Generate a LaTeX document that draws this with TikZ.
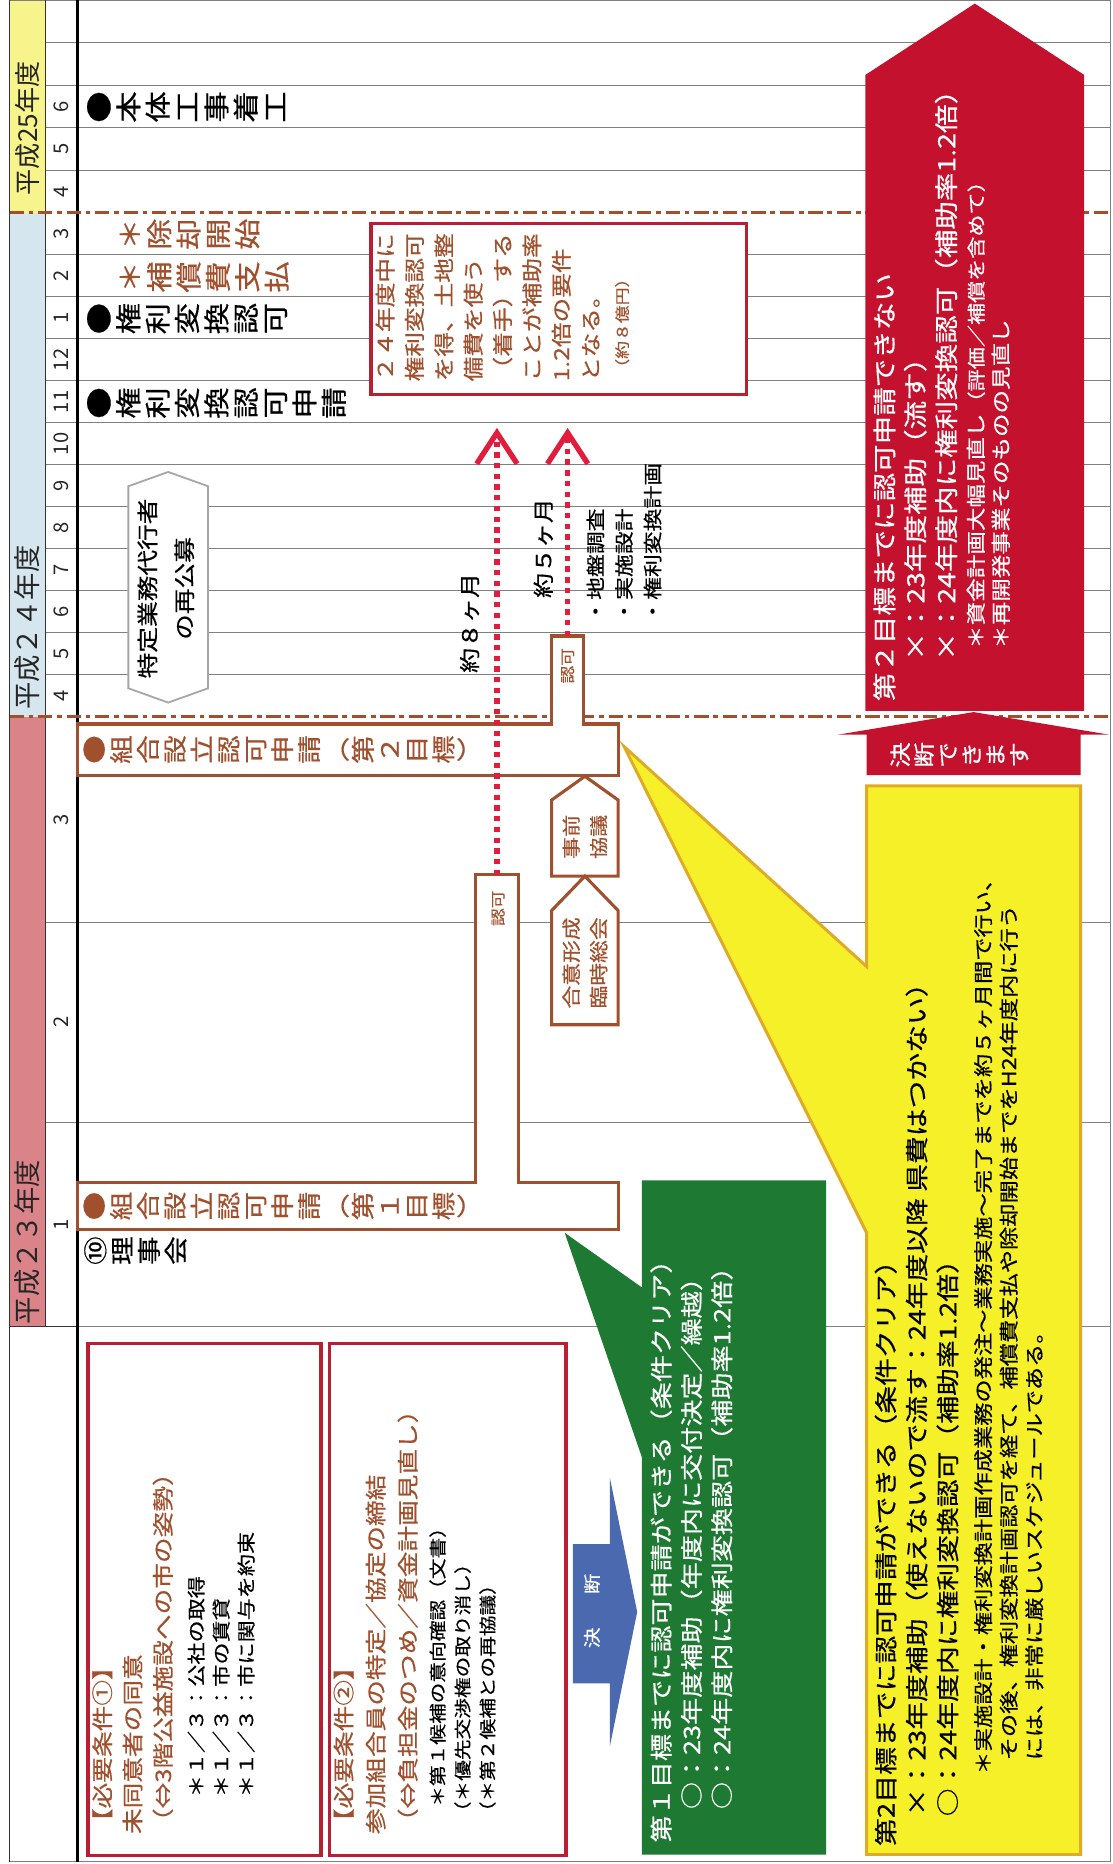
\documentclass[tikz,border=0pt]{standalone}
\usepackage{fontspec}
\setmainfont{Noto Sans CJK JP}[FakeStretch=1.2, FakeBold=0.5]
\newfontfamily\jpn{Noto Sans CJK JP}
\usepackage{graphicx}
\usetikzlibrary{arrows.meta}
\definecolor{brn}{RGB}{160,80,45}
\definecolor{crim}{RGB}{185,30,50}
\definecolor{dotred}{RGB}{226,28,60}
\definecolor{bigred}{RGB}{196,18,46}
\definecolor{grn}{RGB}{30,122,50}
\definecolor{ylw}{RGB}{245,240,40}
\definecolor{ylwb}{RGB}{222,170,40}
\definecolor{blu}{RGB}{75,105,175}
\definecolor{yrA}{RGB}{248,244,140}
\definecolor{yrB}{RGB}{214,230,238}
\definecolor{yrC}{RGB}{218,132,138}
\newcommand\fsz[2]{\fontsize{#1}{#2}\selectfont}
\ExplSyntaxOn
\NewDocumentCommand \vtxt { O{2pt} m }
  {
    \tl_map_inline:nn { #2 }
      {
        \str_case:nnF { ##1 }
          {
            { （ } { \makebox[1em]{（} }
            { ） } { \makebox[1em]{）} }
          }
          { \rotatebox[origin=c]{90}{\rule[-0.12em]{0pt}{1em}##1} }
        \hspace{#1}
      }
  }
\ExplSyntaxOff
\tikzset{
  gridl/.style={draw=black!50, line width=0.8pt},
  frameln/.style={draw=black!80, line width=1pt},
  ddline/.style={draw=brn, line width=2.6pt, dash pattern=on 12pt off 4pt on 4pt off 4pt},
  rt/.style={rotate=90, inner sep=0pt, align=left, anchor=north west},
  rc/.style={rotate=90, inner sep=0pt, align=center},
  vtn/.style={inner sep=0pt, anchor=west},
  barshape/.style={draw=brn, line width=2.6pt, fill=white},
  condbox/.style={draw=crim, line width=3pt, fill=white},
  dotarrow/.style={draw=dotred, line width=4.5pt, dash pattern=on 4.5pt off 4.5pt,
    -{Straight Barb[length=26pt,width=34pt,line width=4.5pt]}},
}
\begin{document}
\begin{tikzpicture}[x=1pt,y=-1pt]
\useasboundingbox (0,0) rectangle (936,1568);
\fill[white] (0,0) rectangle (936,1568);
% year cells
\fill[yrA] (8,0) rectangle (38,179);
\fill[yrB] (8,179) rectangle (38,603);
\fill[yrC] (8,603) rectangle (38,1116);
% grid
\foreach \yy in {35.8,71.6,107.4,143.2,776,944} \draw[gridl] (38,\yy) -- (934,\yy);
\foreach \k in {1,...,11} {\pgfmathsetmacro\yy{179+35.333*\k}\draw[gridl] (38,\yy) -- (934,\yy);}
\draw[gridl] (8,1116) -- (934,1116);
\draw[gridl] (8,0.6) -- (934,0.6);
\draw[gridl] (8,1566) -- (934,1566);
\draw[gridl] (934,0) -- (934,1566);
\draw[frameln] (8,0) -- (8,1566);
\draw[frameln] (38,0) -- (38,1116);
\draw[frameln] (8,1116) -- (65,1116);
\draw[draw=black, line width=2.2pt] (65,0) -- (65,1566);
\draw[ddline] (8,179) -- (934,179);
\draw[ddline] (8,603) -- (934,603);
% year labels
\node[rc, font=\jpn\fsz{22}{22}, text=black!85] (yr25) at (23,108) {平成25年度};
\node[rc, font=\jpn\fsz{23}{23}, text=black!85] (yr24) at (23,528) {平成２４年度};
\node[rc, font=\jpn\fsz{23}{23}, text=black!85] (yr23) at (23,1045) {平成２３年度};
% month labels
\foreach \m/\yy [count=\i] in {6/89.5,5/125.3,4/161.1,3/689.5,2/860,1/1030}
  \node[rc, font=\jpn\fsz{17}{17}, text=black!85] (mA\i) at (51.5,\yy) {\m};
\foreach \m [count=\k from 0] in {3,2,1,12,11,10,9,8,7,6,5,4}
  {\pgfmathsetmacro\yy{179+35.333*\k+17.667}
   \node[rc, font=\jpn\fsz{17}{17}, text=black!85] (mB\k) at (51.5,\yy) {\m};}
% big red arrow
\fill[bigred] (728,598) -- (728,63) -- (820,3) -- (912,63) -- (912,598) -- cycle;
\node[rt, text=white, font=\fsz{20}{26}] (redA) at (734.4,590)
  {第２目標までに認可申請できない\\
   \hspace*{34pt}×：23年度補助（流す）\\
   \hspace*{34pt}×：24年度内に権利変換認可（補助率1.2倍）};
\node[rt, text=white, font=\fsz{16.5}{21}] (redB) at (813,546)
  {＊資金計画大幅見直し{\fsz{15.5}{15.5}（評価／補償を含めて）}\\
   ＊再開発事業そのものの見直し};
% small red arrow
\fill[bigred] (729,652) -- (729,618) -- (705,618) -- (819,599) -- (933,618) -- (909,618) -- (909,652) -- cycle;
\node[vtn, text=white, font=\fsz{18}{18}] (kd) at (748,635) {\vtxt[2pt]{決断できます}};
% yellow callout
\filldraw[fill=ylw, draw=ylwb, line width=2.5pt] (729,661) -- (909,661) -- (909,1560) -- (729,1560) -- (729,1037) -- (525,628) -- (729,813) -- cycle;
\node[rt, font=\fsz{19.5}{26}] (ylA) at (735.6,1553)
  {第2目標までに認可申請ができる（条件クリア）\\
   \hspace*{25pt}×：23年度補助（使えないので流す：24年度以降 県費はつかない）\\
   \hspace*{25pt}○：24年度内に権利変換認可（補助率1.2倍）};
\node[rt, font=\fsz{16.3}{21.5}] (ylB) at (819.2,1493)
  {＊実施設計・権利変換計画作成業務の発注～業務実施～完了までを約５ヶ月間で行い、\\
   \hspace*{12pt}その後、権利変換計画認可を経て、補償費支払や除却開始までをH24年度内に行う\\
   \hspace*{12pt}には、非常に厳しいスケジュールである。};
% green callout
\fill[grn] (540,993) -- (695,993) -- (695,1560) -- (540,1560) -- (540,1226) -- (475,1037) -- (540,1083) -- cycle;
\node[rt, text=white, font=\fsz{19}{25.5}] (gr) at (546.9,1550)
  {第１目標までに認可申請ができる（条件クリア）\\
   \hspace*{28pt}○：23年度補助（年度内に交付決定／繰越）\\
   \hspace*{28pt}○：24年度内に権利変換認可（補助率1.2倍）};
% blue arrow
\fill[blu] (482,1299) -- (513,1299) -- (513,1243) -- (536,1356) -- (513,1469) -- (513,1416) -- (482,1416) -- cycle;
\node[rc, text=white, font=\fsz{14.5}{14.5}] (kdb) at (498,1355) {決\hspace{28pt}断};
% condition boxes
\node[condbox, minimum width=196pt, minimum height=431pt] (c1) at (172,1345.5) {};
\node[condbox, minimum width=199pt, minimum height=431pt] (c2) at (376.5,1345.5) {};
\node[rt, text=brn, font=\fsz{18}{25.5}] (c1a) at (77.4,1543)
  {【必要条件①】\\未同意者の同意\\（⇔3階公益施設への市の姿勢）};
\node[rt, font=\fsz{15.5}{21}] (c1b) at (157.6,1512)
  {＊１／３：公社の取得\\＊１／３：市の賃貸\\＊１／３：市に関与を約束};
\node[rt, text=brn, font=\fsz{18}{27}] (c2a) at (280.4,1543)
  {【必要条件②】\\参加組合員の特定／協定の締結\\（⇔負担金のつめ／資金計画見直し）};
\node[rt, font=\fsz{14.5}{21}] (c2b) at (361,1533)
  {\hspace*{13pt}＊第１候補の意向確認（文書）\\（＊優先交渉権の取り消し）\\（＊第２候補との再協議）};
% box 24
\node[condbox, minimum width=316pt, minimum height=144pt] (b24) at (470,260) {};
\node[rt, text=brn, font=\fsz{17.3}{24.7}] (b24t) at (315.7,321)
  {２４年度中に\\権利変換認可\\を得、土地整\\備費を使う\\（着手）する\\ことが補助率\\1.2倍の要件\\となる。\\{\fsz{12.5}{12.5}\hspace*{4pt}（約８億円）}};
% top items
\node[vtn, font=\fsz{22}{22}] (it1) at (72,90) {\vtxt[2.7pt]{●本体工事着工}};
\node[vtn, font=\fsz{22}{22}, text=brn] (it2) at (98,197) {\vtxt[2.7pt]{＊除却開始}};
\node[vtn, font=\fsz{22}{22}, text=brn] (it3) at (98,233) {\vtxt[2.7pt]{＊補償費支払}};
\node[vtn, font=\fsz{22}{22}] (it4) at (72,268) {\vtxt[2.7pt]{●権利変換認可}};
\node[vtn, font=\fsz{22}{22}] (it5) at (72,339) {\vtxt[2.7pt]{●権利変換認可申請}};
% hexagon
\filldraw[draw=black!35, line width=1.5pt, fill=white] (108,409) -- (141.5,397) -- (175,409) -- (175,579) -- (141.5,591) -- (108,579) -- cycle;
\node[rc, font=\fsz{18}{31}] (hx) at (139.5,495) {特定業務代行者\\の再公募};
% bars with stems
\filldraw[barshape] (65,609) -- (464,609) -- (464,535) -- (491,535) -- (491,609) -- (520,609) -- (520,652) -- (65,652) -- cycle;
\filldraw[barshape] (65,995) -- (400,995) -- (400,736) -- (436,736) -- (436,995) -- (520,995) -- (520,1034) -- (65,1034) -- cycle;
\node[vtn, font=\fsz{20}{20}, text=brn] (bar2) at (69,630.5) {\vtxt[2.6pt]{●組合設立認可申請（第２目標）}};
\node[vtn, font=\fsz{20}{20}, text=brn] (bar1) at (69,1014.5) {\vtxt[2.6pt]{●組合設立認可申請（第１目標）}};
\node[rc, font=\fsz{12.5}{12.5}, text=brn] (nk1) at (419,764) {認可};
\node[rc, font=\fsz{12.5}{12.5}, text=brn] (nk2) at (477.5,560) {認可};
\node[vtn, font=\fsz{20}{20}] (rj) at (70,1052) {\vtxt[2.5pt]{⑩理事会}};
% pentagons
\filldraw[barshape] (464,673) -- (492,653) -- (520,673) -- (520,737) -- (464,737) -- cycle;
\filldraw[barshape] (464,766) -- (492,737) -- (520,766) -- (520,862) -- (464,862) -- cycle;
\node[rc, font=\fsz{15.5}{23}, text=brn] (jz) at (492,704) {事前\\協議};
\node[rc, font=\fsz{16}{23}, text=brn] (gi) at (492,810) {合意形成\\臨時総会};
% dotted arrows
\coordinate (s1) at (418,736);
\coordinate (t1) at (418,360);
\coordinate (s2) at (477.5,535);
\coordinate (t2) at (477.5,360);
\draw[dotarrow] (s1) -- (t1);
\draw[dotarrow] (s2) -- (t2);
\node[rc, font=\fsz{17.5}{17.5}] (m8) at (395,524) {約８ヶ月};
\node[rc, font=\fsz{17.5}{17.5}] (m5) at (457,461) {約５ヶ月};
\node[rt, font=\fsz{16}{24}] (work) at (493.3,524) {・地盤調査\\・実施設計\\・権利変換計画};
\end{tikzpicture}
\end{document}
